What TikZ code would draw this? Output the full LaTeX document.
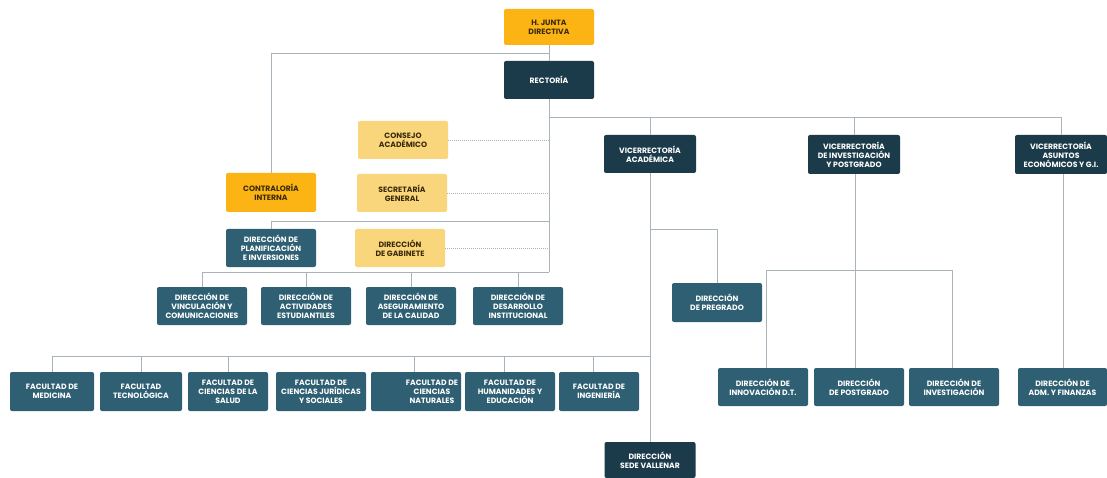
\documentclass[tikz,border=0pt]{standalone}
\usepackage{fontspec}
\setmainfont{Poppins}
\usetikzlibrary{calc}
\definecolor{gold}{HTML}{FCB415}
\definecolor{lightgold}{HTML}{F9D57B}
\definecolor{darkbox}{HTML}{1C3B4A}
\definecolor{bluebox}{HTML}{2E5F72}
\definecolor{goldtext}{HTML}{3A2A08}
\definecolor{conn}{HTML}{A9B3BA}
\tikzset{
  boxfont/.style={font=\bfseries\fontsize{7.7}{9.1}\selectfont},
  box/.style={rounded corners=2pt, align=center, inner sep=1pt, boxfont,
    minimum width=90pt, minimum height=38pt},
  gbox/.style={box, fill=gold, text=goldtext},
  lbox/.style={box, fill=lightgold, text=goldtext},
  dbox/.style={box, fill=darkbox, text=white},
  bbox/.style={box, fill=bluebox, text=white},
  ln/.style={draw=conn, line width=0.9pt},
  dl/.style={draw=conn, line width=0.9pt, dash pattern=on 1pt off 1pt},
}
\begin{document}
\begin{tikzpicture}[x=1pt,y=-1pt]
\useasboundingbox[fill=white] (0,0) rectangle (1107,478);
% nodes
\node[gbox, minimum height=36pt] (junta) at (549,27) {H. JUNTA\\DIRECTIVA};
\node[dbox] (rect) at (549,80) {RECTORÍA};
\node[lbox] (consejo) at (403,140) {CONSEJO\\ACADÉMICO};
\node[lbox] (secre) at (402,193) {SECRETARÍA\\GENERAL};
\node[gbox, minimum height=39pt] (contra) at (271,192.5) {CONTRALORÍA\\INTERNA};
\node[bbox] (plan) at (271,248) {DIRECCIÓN DE\\PLANIFICACIÓN\\E INVERSIONES};
\node[lbox] (gab) at (400,248) {DIRECCIÓN\\DE GABINETE};
\node[bbox] (vinc) at (202,306) {DIRECCIÓN DE\\VINCULACIÓN Y\\COMUNICACIONES};
\node[bbox] (act) at (306,306) {DIRECCIÓN DE\\ACTIVIDADES\\ESTUDIANTILES};
\node[bbox] (ase) at (411,306) {DIRECCIÓN DE\\ASEGURAMIENTO\\DE LA CALIDAD};
\node[bbox] (des) at (518,306) {DIRECCIÓN DE\\DESARROLLO\\INSTITUCIONAL};
\node[dbox, minimum width=92pt] (va) at (650,154) {VICERRECTORÍA\\ACADÉMICA};
\node[dbox, minimum width=92pt, minimum height=39pt] (vi) at (854,154.5) {VICERRECTORÍA\\DE INVESTIGACIÓN\\Y POSTGRADO};
\node[dbox, minimum width=92pt, minimum height=39pt] (vae) at (1061,154.5) {VICERRECTORÍA\\ASUNTOS\\ECONÓMICOS Y G.I.};
\node[bbox, minimum height=39pt] (pre) at (717,302.5) {DIRECCIÓN\\DE PREGRADO};
\node[bbox, minimum width=84pt, minimum height=39pt] (med) at (52,391.5) {FACULTAD DE\\MEDICINA};
\node[bbox, minimum width=82pt, minimum height=39pt] (tec) at (141,391.5) {FACULTAD\\TECNOLÓGICA};
\node[bbox, minimum width=80pt, minimum height=39pt] (sal) at (228,391.5) {FACULTAD DE\\CIENCIAS DE LA\\SALUD};
\node[bbox, minimum height=39pt] (jur) at (321,391.5) {FACULTAD DE\\CIENCIAS JURÍDICAS\\Y SOCIALES};
\node[bbox, minimum height=39pt] (nat) at (416,391.5) {};
\node[text=white, align=center, boxfont, inner sep=0pt] (natt) at (432,391.5) {FACULTAD DE\\CIENCIAS\\NATURALES};
\node[bbox, minimum height=39pt] (hum) at (510,391.5) {FACULTAD DE\\HUMANIDADES Y\\EDUCACIÓN};
\node[bbox, minimum width=80pt, minimum height=39pt] (ing) at (599,391.5) {FACULTAD DE\\INGENIERÍA};
\node[dbox, minimum width=91pt, minimum height=36pt] (sede) at (650,460) {DIRECCIÓN\\SEDE VALLENAR};
\node[bbox] (innov) at (763,387) {DIRECCIÓN DE\\INNOVACIÓN D.T.};
\node[bbox] (postg) at (859,387) {DIRECCIÓN\\DE POSTGRADO};
\node[bbox] (invest) at (954,387) {DIRECCIÓN DE\\INVESTIGACIÓN};
\node[bbox, minimum width=89pt] (adm) at (1062.5,387) {DIRECCIÓN DE\\ADM. Y FINANZAS};
% bus coordinates
\coordinate (j1) at (549,53);
\coordinate (r0) at (549,117);
\coordinate (r2) at (549,221);
\coordinate (r1) at (549,272);
\coordinate (a1) at (650,229);
\coordinate (fb) at (650,356);
\coordinate (vb) at (855,270);
% connectors
\draw[ln] (junta.south) -- (rect.north);
\draw[ln] (j1) -| (contra.north);
\draw[ln] (rect.south) -- (r1);
\draw[ln] (r0) -| (vae.north);
\draw[ln] (va.north) |- (r0);
\draw[ln] (vi.north) |- (r0);
\draw[ln] (r2) -| (plan.north);
\draw[ln] (r1) -| (vinc.north);
\draw[ln] (act.north) |- (r1);
\draw[ln] (ase.north) |- (r1);
\draw[ln] (des.north) |- (r1);
\draw[dl] (consejo.east) -- (consejo.east -| r0);
\draw[dl] (secre.east) -- (secre.east -| r0);
\draw[dl] (gab.east) -- (gab.east -| r0);
\draw[ln] (va.south) -- (sede.north);
\draw[ln] (a1) -| (pre.north);
\draw[ln] (fb) -| (med.north);
\draw[ln] (tec.north) |- (fb);
\draw[ln] (sal.north) |- (fb);
\draw[ln] ($(nat.north)+(-2,0)$) |- (fb);
\draw[ln] ($(hum.north)+(-6,0)$) |- (fb);
\draw[ln] ($(ing.north)+(-6,0)$) |- (fb);
\draw[ln] (vi.south -| vb) -- (vb |- postg.north);
\draw[ln] (vb) -| ($(innov.north)+(3,0)$);
\draw[ln] (vb) -| ($(invest.north)+(-2,0)$);
\draw[ln] ($(vae.south)+(2,0)$) -- ($(vae.south |- adm.north)+(2,0)$);
\end{tikzpicture}
\end{document}
